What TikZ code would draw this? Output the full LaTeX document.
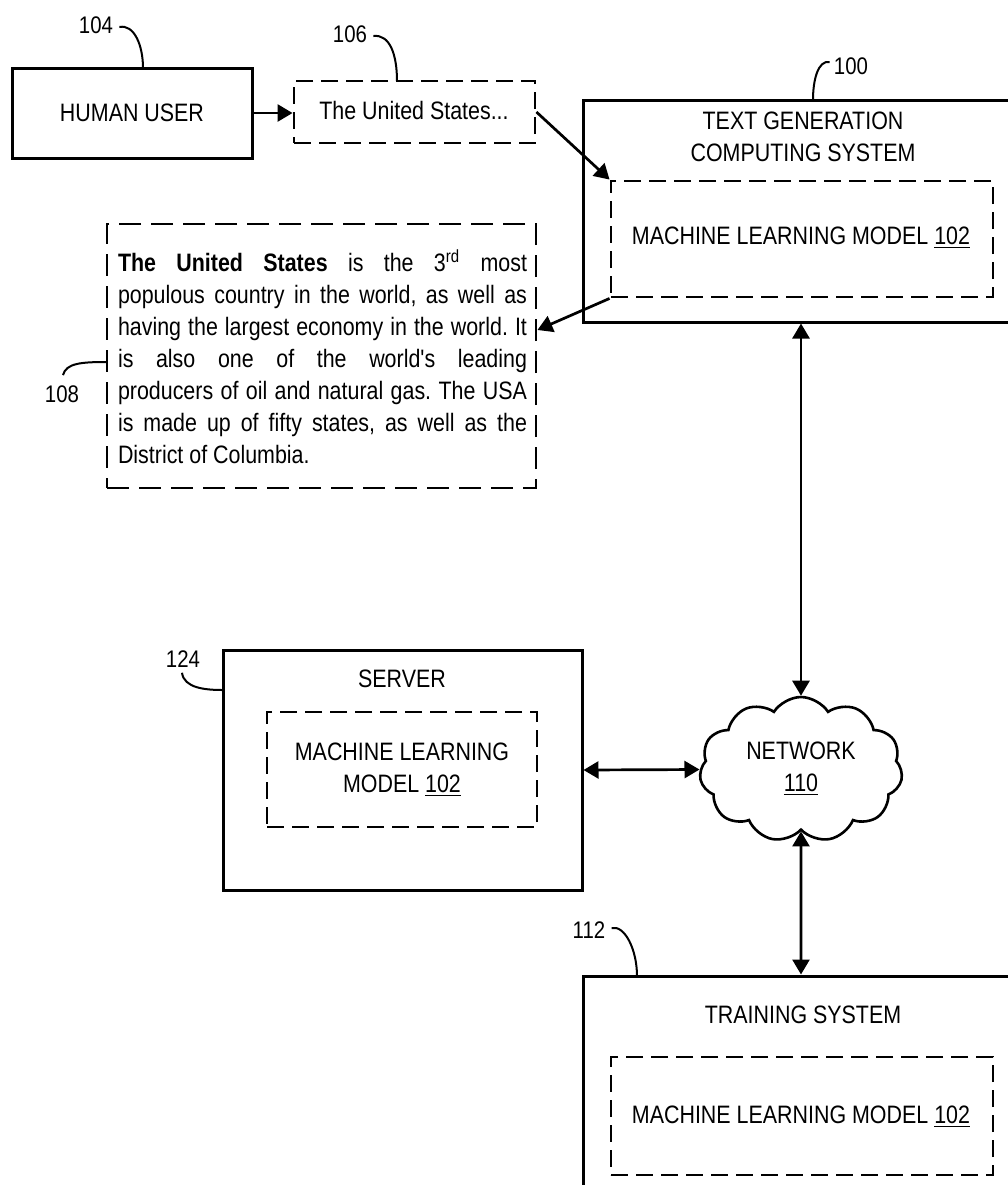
\documentclass[tikz,border=0pt]{standalone}
\usepackage{fontspec}
\setmainfont{Liberation Sans}[FakeStretch=0.85]
\newfontfamily\plainfont{Liberation Sans}[FakeStretch=0.85]
\usetikzlibrary{arrows.meta,shapes.symbols,calc}
\begin{document}
\frenchspacing
\begin{tikzpicture}[x=0.5pt,y=-0.5pt,
  font=\fontsize{12.6pt}{16pt}\selectfont,
  solidbox/.style={draw, line width=1.5pt, inner sep=0pt},
  dbox/.style={draw, line width=1.45pt, dash pattern=on 8.5pt off 4pt, inner sep=0pt},
  arr/.style={line width=1.35pt, -{Triangle[length=7.5pt,width=8.5pt]}},
  darr/.style={line width=1.35pt, {Triangle[length=7.5pt,width=8.5pt]}-{Triangle[length=7.5pt,width=8.5pt]}},
  lead/.style={line width=1pt},
  lbl/.style={font=\fontsize{12pt}{14pt}\selectfont, inner sep=2pt},
  txt/.style={inner sep=0pt, align=center}]
\useasboundingbox (0,0) rectangle (1008,1185);
\clip (0,0) rectangle (1008,1185);

% boxes
\node[solidbox, minimum width=120pt, minimum height=45pt] (hu) at (132,113) {};
\node[txt] (hutxt) at (132,113) {HUMAN USER};

\node[dbox, minimum width=120.5pt, minimum height=31pt] (d106) at (414.5,112) {};
\node[txt] (d106txt) at (414,110) {The United States...};

\node[solidbox, minimum width=218pt, minimum height=111pt] (tgcs) at (801,211) {};
\node[txt] (tgcstxt) at (803,137) {TEXT GENERATION\\COMPUTING SYSTEM};
\node[dbox, minimum width=191pt, minimum height=58pt] (ml1) at (802,239) {};
\node[txt] (ml1txt) at (801,238) {MACHINE LEARNING MODEL \underline{102}};

\node[dbox, dash pattern=on 11pt off 5pt, minimum width=214.5pt, minimum height=132pt] (t108) at (321.5,356) {};
\node[inner sep=0pt, text width=204.5pt, align=justify] (t108txt) at (322.5,357)
  {{\bfseries The United States} is the 3\textsuperscript{rd} most\linebreak
   populous country in the world, as well as\linebreak
   having the largest economy in the world. It\linebreak
   is also one of the world{\plainfont '}s leading\linebreak
   producers of oil and natural gas. The USA\linebreak
   is made up of fifty states, as well as the\linebreak
   District of Columbia.};

\node[solidbox, minimum width=179.5pt, minimum height=120pt] (server) at (402.5,770) {};
\node[txt] (servertxt) at (402,679) {SERVER};
\node[dbox, minimum width=135pt, minimum height=57.5pt] (ml2) at (402,769.5) {};
\node[txt] (ml2txt) at (402,770) {MACHINE LEARNING\\MODEL \underline{102}};

\node[cloud, draw, line width=1.3pt, cloud puffs=11, cloud puff arc=115, cloud ignores aspect,
      minimum width=101.5pt, minimum height=72.5pt, inner sep=0pt] (net) at (801,769.5) {};
\node[txt] (nettxt) at (801,769) {NETWORK\\\underline{110}};

\node[solidbox, minimum width=218pt, minimum height=117pt] (train) at (801,1093) {};
\node[txt] (traintxt) at (803,1015) {TRAINING SYSTEM};
\node[dbox, minimum width=191pt, minimum height=59pt] (ml3) at (802,1116) {};
\node[txt] (ml3txt) at (801,1117) {MACHINE LEARNING MODEL \underline{102}};

% reference labels
\node[lbl] (l104) at (96,25) {104};
\node[lbl] (l106) at (350,34) {106};
\node[lbl] (l100) at (851,66) {100};
\node[lbl] (l108) at (62,394) {108};
\node[lbl] (l124) at (183,659) {124};
\node[lbl] (l112) at (589,930) {112};

\coordinate (c104) at (143,68);
\coordinate (c106) at (397,81);
\coordinate (c100) at (813,100);
\coordinate (c108) at (107,362);
\coordinate (c124) at (223,690);
\coordinate (c112) at (637,976);

\draw[lead] ($(l104.east)+(2,2)$) .. controls (134,24) and (143,45) .. (c104);
\draw[lead] ($(l106.east)+(2,2)$) .. controls (390,34) and (397,55) .. (c106);
\draw[lead] ($(l100.west)+(0,-4)$) .. controls (818,60) and (813,80) .. (c100);
\draw[lead] ($(l108.north)+(1,-6)$) .. controls (66,363) and (82,362) .. (c108);
\draw[lead] ($(l124.south)+(-1,1)$) .. controls (184,688) and (205,690) .. (c124);
\draw[lead] ($(l112.east)+(2,-2)$) .. controls (625,925) and (637,950) .. (c112);

% connectors
\draw[arr] (hu.east) -- (hu.east -| d106.west);
\draw[arr] (d106.east) -- (ml1.north west);
\draw[arr] (ml1.south west) -- ($(t108.east)+(0,-26)$);
\draw[darr] (tgcs.south) -- (net.north);
\draw[darr] (server.east) -- (net.west);
\draw[darr] (net.south) -- (train.north);
\end{tikzpicture}
\end{document}
